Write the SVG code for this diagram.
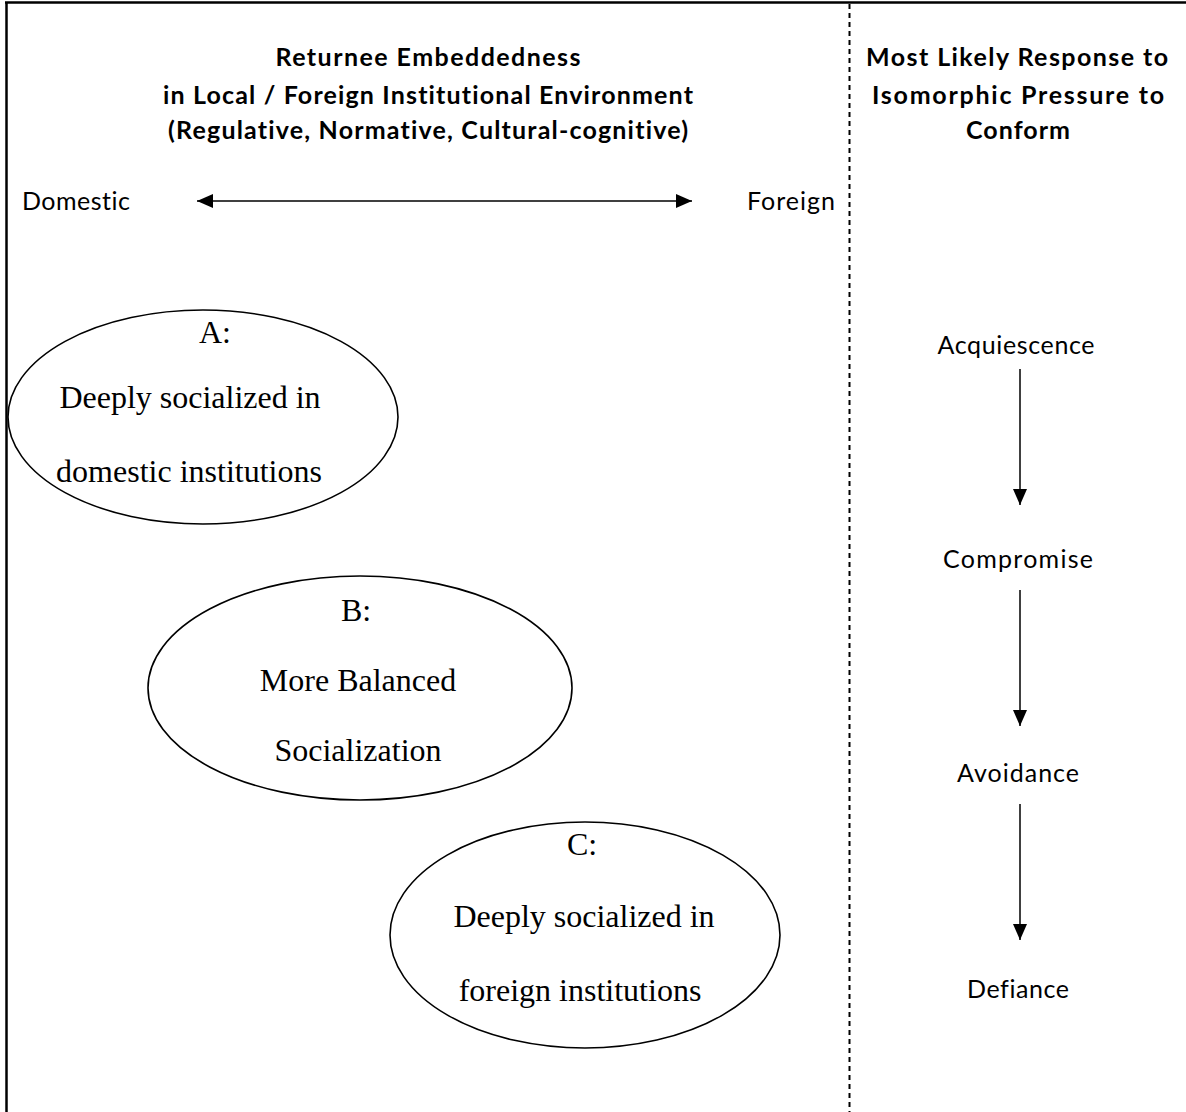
<svg xmlns="http://www.w3.org/2000/svg" width="1186" height="1112" viewBox="0 0 1186 1112">
  <style>
    text { font-variant-ligatures: none; }
    .hdr { font-family: Lato, "Open Sans", "Liberation Sans", sans-serif; font-weight: bold; font-size: 25px; fill: #000; text-anchor: middle; }
    .lbl { font-family: Lato, "Open Sans", "Liberation Sans", sans-serif; font-size: 25px; fill: #000; }
    .resp { font-family: Lato, "Open Sans", "Liberation Sans", sans-serif; font-size: 25px; fill: #000; text-anchor: middle; }
    .oval { fill: #fff; stroke: #000; stroke-width: 1.6; }
    .otxt { font-family: "Liberation Serif", "Times New Roman", serif; font-size: 32px; fill: #000; text-anchor: middle; }
    .conn { stroke: #000; stroke-width: 1.5; fill: none; }
  </style>
  <defs>
    <marker id="head" viewBox="0 0 16 14" refX="16" refY="7" markerWidth="16" markerHeight="14" markerUnits="userSpaceOnUse" orient="auto-start-reverse">
      <path d="M0,0 L16,7 L0,14 Z" fill="#000"/>
    </marker>
  </defs>
  <rect width="1186" height="1112" fill="#fff"/>

  <!-- frame and column divider -->
  <g id="frame">
    <line x1="6.5" y1="2" x2="6.5" y2="1112" stroke="#000" stroke-width="2.5"/>
    <line x1="5" y1="2.5" x2="1186" y2="2.5" stroke="#000" stroke-width="2.5"/>
    <line x1="849.5" y1="4" x2="849.5" y2="1112" stroke="#000" stroke-width="2" stroke-dasharray="5,4"/>
  </g>

  <!-- column headings -->
  <g id="heading-left">
    <text class="hdr" x="428" y="66" textLength="305">Returnee Embeddedness</text>
    <text class="hdr" x="428" y="104" textLength="530">in Local / Foreign Institutional Environment</text>
    <text class="hdr" x="428" y="139" textLength="520">(Regulative, Normative, Cultural-cognitive)</text>
  </g>
  <g id="heading-right">
    <text class="hdr" x="1017" y="66" textLength="302">Most Likely Response to</text>
    <text class="hdr" x="1018" y="104" textLength="292">Isomorphic Pressure to</text>
    <text class="hdr" x="1018" y="139" textLength="104">Conform</text>
  </g>

  <!-- domestic / foreign axis -->
  <g id="axis-domestic"><text class="lbl" x="22" y="210" textLength="108">Domestic</text></g>
  <g id="axis-foreign"><text class="lbl" x="747" y="210" textLength="88">Foreign</text></g>

  <!-- socialization ovals -->
  <g id="node-a">
    <ellipse class="oval" cx="203" cy="417" rx="195" ry="107"/>
    <text class="otxt" x="215" y="343">A:</text>
    <text class="otxt" x="190" y="408">Deeply socialized in</text>
    <text class="otxt" x="189" y="482">domestic institutions</text>
  </g>
  <g id="node-b">
    <ellipse class="oval" cx="360" cy="688" rx="212" ry="112"/>
    <text class="otxt" x="356" y="621">B:</text>
    <text class="otxt" x="358" y="691">More Balanced</text>
    <text class="otxt" x="358" y="761">Socialization</text>
  </g>
  <g id="node-c">
    <ellipse class="oval" cx="585" cy="935" rx="195" ry="113"/>
    <text class="otxt" x="582" y="855">C:</text>
    <text class="otxt" x="584" y="927">Deeply socialized in</text>
    <text class="otxt" x="580" y="1001">foreign institutions</text>
  </g>

  <!-- response sequence -->
  <g id="resp-acquiescence"><text class="resp" x="1016" y="354" textLength="157">Acquiescence</text></g>
  <g id="resp-compromise"><text class="resp" x="1018" y="568" textLength="150">Compromise</text></g>
  <g id="resp-avoidance"><text class="resp" x="1018" y="782" textLength="122">Avoidance</text></g>
  <g id="resp-defiance"><text class="resp" x="1018" y="998" textLength="102">Defiance</text></g>

  <g id="connectors">
    <line class="conn" x1="197" y1="201" x2="692" y2="201" marker-start="url(#head)" marker-end="url(#head)"/>
    <line class="conn" x1="1020" y1="369" x2="1020" y2="505" marker-end="url(#head)"/>
    <line class="conn" x1="1020" y1="590" x2="1020" y2="726" marker-end="url(#head)"/>
    <line class="conn" x1="1020" y1="804" x2="1020" y2="940" marker-end="url(#head)"/>
  </g>
</svg>
